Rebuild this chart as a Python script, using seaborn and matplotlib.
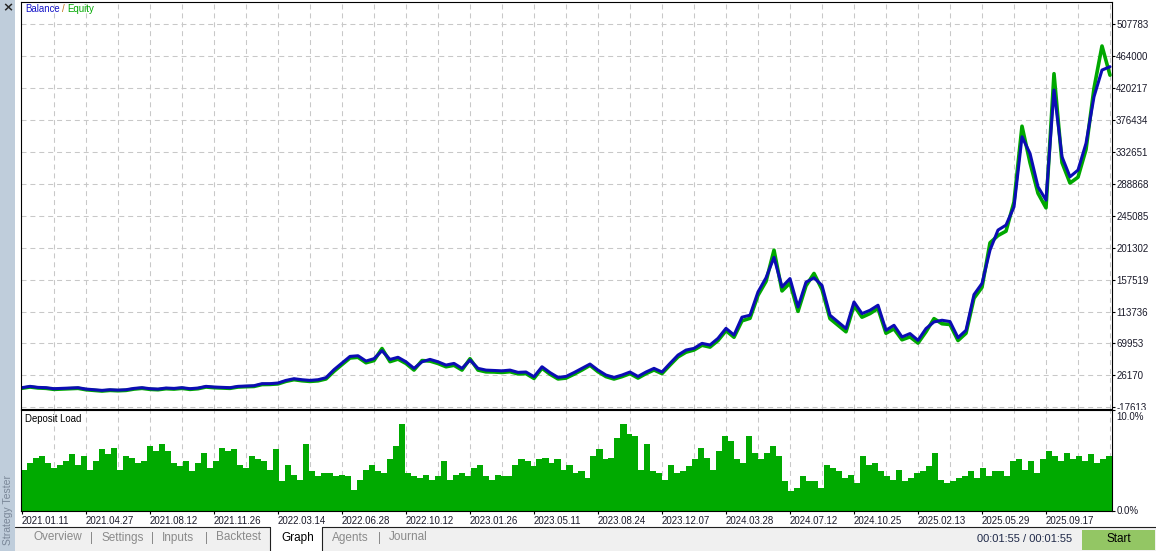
import numpy as np
import matplotlib
matplotlib.use("Agg")
import matplotlib.pyplot as plt
from matplotlib.patches import Rectangle
from matplotlib.lines import Line2D
from matplotlib.transforms import Bbox, TransformedBbox, ScaledTranslation
import seaborn as sns

W, H = 1156, 551

# ---------------- data ----------------
balance_k = [
    9.3, 11.1, 9.7, 9.3, 7.9, 8.3, 8.8, 9.3, 7.4, 6.5,
    5.6, 6.5, 6.0, 6.5, 8.3, 9.3, 7.9, 7.4, 8.8, 8.3,
    9.3, 7.9, 8.8, 11.1, 10.2, 9.7, 9.3, 11.1, 11.6, 12.0,
    14.8, 14.8, 15.7, 19.3, 21.6, 20.2, 19.3, 20.2, 23.0, 34.0,
    43.1, 52.2, 53.1, 45.8, 49.1, 60.0, 48.0, 51.0, 44.8, 35.8,
    44.8, 48.1, 44.8, 40.3, 42.6, 35.8, 47.2, 35.8, 33.4, 32.9,
    32.4, 33.4, 30.3, 30.8, 24.3, 38.0, 30.0, 23.4, 24.7, 30.0,
    35.8, 41.7, 33.4, 26.6, 23.4, 26.6, 30.8, 24.7, 30.8, 35.8,
    30.8, 42.6, 54.0, 60.9, 63.2, 70.1, 67.8, 77.0, 90.7, 81.5,
    106.0, 108.7, 140.6, 160.0, 188.0, 147.5, 159.0, 120.0, 154.0, 160.0,
    149.6, 108.7, 99.5, 90.4, 126.9, 110.9, 115.5, 122.4, 88.1, 94.9,
    78.9, 83.5, 74.3, 90.4, 99.5, 101.8, 100.0, 77.9, 88.0, 137.0,
    152.3, 198.0, 225.5, 232.3, 257.4, 353.5, 330.7, 284.9, 266.6, 417.6,
    326.0, 298.6, 307.8, 344.4, 408.4, 445.0, 449.6,
]
equity_k = [
    8.5, 10.2, 8.9, 8.4, 7.0, 7.5, 7.9, 8.4, 6.5, 5.6,
    4.7, 5.6, 5.1, 5.6, 7.4, 8.4, 7.0, 6.5, 7.9, 7.4,
    8.4, 7.0, 7.9, 10.2, 9.3, 8.8, 8.4, 10.2, 10.7, 11.0,
    13.6, 13.8, 14.5, 18.0, 20.3, 18.8, 17.9, 18.7, 21.3, 31.8,
    41.0, 50.0, 51.0, 43.5, 46.5, 63.0, 45.0, 48.5, 42.5, 33.5,
    46.5, 45.8, 42.5, 38.0, 40.0, 33.5, 49.0, 33.5, 31.0, 30.8,
    30.2, 31.2, 28.2, 28.6, 22.0, 36.0, 27.8, 21.3, 22.5, 27.8,
    33.6, 40.0, 31.2, 24.5, 21.2, 24.5, 28.6, 22.5, 28.6, 33.6,
    28.6, 40.3, 51.5, 58.0, 61.0, 67.5, 65.0, 74.0, 87.5, 78.5,
    101.0, 104.5, 136.0, 155.0, 198.0, 142.0, 153.0, 114.0, 149.0, 166.0,
    144.0, 104.0, 95.0, 86.0, 122.0, 106.0, 111.0, 118.0, 84.0, 90.0,
    75.0, 79.0, 70.5, 86.0, 104.0, 97.0, 96.0, 74.0, 84.0, 132.0,
    147.0, 208.0, 218.0, 224.0, 264.0, 368.0, 318.0, 276.0, 256.0, 440.0,
    318.0, 290.0, 298.0, 336.0, 420.0, 478.0, 438.0,
]
deposit_load = [
    4.0, 4.7, 5.2, 5.4, 4.7, 4.2, 4.5, 4.9, 5.6, 4.5,
    5.4, 4.0, 4.9, 6.1, 5.6, 6.2, 4.0, 5.4, 5.2, 4.7,
    4.9, 6.4, 5.9, 6.6, 5.9, 4.7, 4.4, 4.9, 3.9, 4.7,
    5.7, 4.2, 4.9, 6.2, 5.9, 6.1, 4.5, 4.2, 5.4, 5.1,
    4.9, 4.0, 6.1, 2.9, 4.5, 3.5, 3.0, 6.6, 3.9, 3.4,
    3.7, 3.7, 3.4, 3.5, 3.4, 2.0, 3.0, 4.0, 4.5, 3.9,
    3.7, 5.1, 6.4, 8.6, 3.7, 3.4, 3.2, 3.5, 3.0, 3.4,
    4.9, 3.0, 3.5, 3.7, 3.4, 4.2, 4.5, 3.4, 3.0, 3.5,
    3.4, 3.4, 4.5, 5.1, 4.9, 4.4, 5.1, 5.2, 4.7, 5.1,
    4.0, 4.5, 3.7, 3.9, 3.2, 5.4, 6.1, 5.1, 5.2, 7.2,
    8.6, 7.6, 7.4, 4.0, 6.6, 3.9, 3.7, 3.0, 4.5, 3.7,
    3.9, 4.4, 5.1, 6.2, 5.2, 4.0, 5.9, 7.4, 6.9, 5.1,
    4.7, 7.4, 5.7, 5.1, 5.7, 6.4, 5.4, 2.9, 1.9, 2.2,
    3.4, 2.9, 2.9, 2.2, 4.5, 4.2, 3.9, 3.2, 3.5, 2.7,
    5.4, 4.5, 4.7, 3.9, 3.4, 3.0, 4.0, 2.9, 3.2, 3.7,
    3.9, 4.4, 5.7, 3.0, 2.7, 2.9, 3.2, 3.4, 3.9, 3.2,
    4.2, 3.4, 3.9, 3.9, 3.4, 4.9, 5.1, 4.0, 4.9, 3.7,
    5.1, 5.9, 5.4, 4.9, 5.7, 5.1, 5.4, 4.9, 5.6, 4.7,
    5.1, 5.4,
]
date_labels = [
    "2021.01.11", "2021.04.27", "2021.08.12", "2021.11.26", "2022.03.14",
    "2022.06.28", "2022.10.12", "2023.01.26", "2023.05.11", "2023.08.24",
    "2023.12.07", "2024.03.28", "2024.07.12", "2024.10.25", "2025.02.13",
    "2025.05.29", "2025.09.17",
]
y_tick_values = [-17613, 26170, 69953, 113736, 157519, 201302, 245085,
                 288868, 332651, 376434, 420217, 464000, 507783]
load_ticks = [0.0, 10.0]
tab_names = ["Overview", "Settings", "Inputs", "Backtest", "Graph", "Agents", "Journal"]

assert len(balance_k) == len(equity_k)

# ---------------- style ----------------
sns.set_style("white")
plt.rcParams['font.family'] = ['Liberation Sans', 'DejaVu Sans']
plt.rcParams['lines.scale_dashes'] = False

def fx(x):
    return x / W

def fy(y):
    return 1 - y / H

fig = plt.figure(figsize=(W / 100, H / 100), dpi=100)
fig.patch.set_facecolor('white')

GRID = dict(color='#c8c8c8', lw=0.75, linestyle=(0, (3.6, 2.8)))
XMIN, XMAX = -0.125, (len(balance_k) - 1) + 0.25
text_col = '#1a1a2a'

# ---------------- main balance/equity panel ----------------
ax = fig.add_axes([fx(21), fy(408.5), (1112 - 21) / W, (408.5 - 2) / H])
idx = np.arange(len(balance_k))
balance = np.array(balance_k) * 1000
equity = np.array(equity_k) * 1000
sns.lineplot(x=idx, y=equity, color='#00a800', linewidth=2.6, ax=ax)
sns.lineplot(x=idx, y=balance, color='#0c0cb4', linewidth=2.2, ax=ax)
ax.set_xlim(XMIN, XMAX)
ax.set_ylim(-19259, 538372)
ax.set_xlabel('')
ax.set_ylabel('')
ax.xaxis.remove_overlapping_locs = False
ax.set_xticks(np.arange(4, len(balance_k), 4))
ax.tick_params(axis='x', length=0, labelbottom=False)
ax.yaxis.tick_right()
ax.set_yticks(y_tick_values)
ax.set_yticklabels([str(v) for v in y_tick_values])
ax.tick_params(axis='y', length=2, width=0.8, pad=1, labelsize=7,
               labelcolor=text_col, color='black')
ax.grid(True, axis='both', **GRID)
for s in ax.spines.values():
    s.set_color('black')
    s.set_linewidth(0.8)
# the lowest value label is cut by the deposit panel, as in the reference
low_lbl = ax.get_yticklabels()[0]
low_lbl.set_clip_on(True)
low_lbl.set_clip_box(TransformedBbox(Bbox([[fx(1112), fy(409.5)], [1.0, 1.0]]),
                                     fig.transFigure))

# ---------------- deposit load panel ----------------
ax2 = fig.add_axes([fx(21), fy(510.5), (1112 - 21) / W, (510.5 - 410) / H])
n = len(deposit_load)
bw = (XMAX - XMIN) / n
centers = XMIN + bw * (np.arange(n) + 0.5)
ax2.bar(centers, deposit_load, width=bw * 1.02, color='#00aa00',
        linewidth=0, antialiased=False, zorder=2)
ax2.set_xlim(XMIN, XMAX)
ax2.set_ylim(0, 10)
ax2.xaxis.remove_overlapping_locs = False
ax2.set_xticks(np.arange(0, 8 * len(date_labels), 8))
ax2.set_xticklabels(date_labels, ha='left')
ax2.set_xticks(np.arange(4, len(balance_k), 4), minor=True)
ax2.tick_params(axis='x', which='major', length=2.5, width=0.8, pad=1.5,
                labelsize=7, labelcolor=text_col, color='black', bottom=True)
ax2.tick_params(axis='x', which='minor', length=0)
ax2.grid(False, which='major')
ax2.grid(True, which='minor', axis='x', zorder=0, **GRID)
ax2.set_axisbelow(True)
ax2.yaxis.tick_right()
ax2.set_yticks(load_ticks)
ax2.set_yticklabels([f"{v:.1f}%" for v in load_ticks])
ax2.tick_params(axis='y', length=2, width=0.8, pad=1, labelsize=7,
                labelcolor=text_col, color='black')
top_lbl = ax2.get_yticklabels()[1]
top_lbl.set_va('top')
top_lbl.set_transform(top_lbl.get_transform() +
                      ScaledTranslation(0, -2.5 / 100, fig.dpi_scale_trans))
for s in ax2.spines.values():
    s.set_color('black')
    s.set_linewidth(0.8)

# ---------------- panel texts ----------------
fig.text(fx(25), fy(9), 'Balance', color='#1414c8', fontsize=6.9, va='center')
fig.text(fx(61.5), fy(9), '/', color='#c07010', fontsize=6.9, va='center')
fig.text(fx(67), fy(9), 'Equity', color='#00a800', fontsize=6.9, va='center')
fig.text(fx(25), fy(418.5), 'Deposit Load', color='black', fontsize=6.9, va='center')

# ---------------- window chrome ----------------
fig.add_artist(Rectangle((0, 0), fx(15), 1, transform=fig.transFigure,
                         facecolor='#bfcddb', edgecolor='none'))
fig.text(fx(7.5), fy(8), '×', fontsize=9.5, fontweight='bold', ha='center',
         va='center', family=['DejaVu Sans'])
fig.text(fx(8), fy(510), 'Strategy Tester', rotation=90, ha='center',
         va='center', color='#7a8798', fontsize=7.5)

# bottom tab strip
fig.add_artist(Rectangle((fx(15), 0), 1 - fx(15), fy(526.5), transform=fig.transFigure,
                         facecolor='#f0f0f0', edgecolor='none'))
fig.add_artist(Rectangle((fx(270), 0), (322 - 270) / W, fy(526.5),
                         transform=fig.transFigure, facecolor='white', edgecolor='none'))
fig.add_artist(Line2D([fx(15), fx(270)], [fy(526.5), fy(526.5)],
                      transform=fig.transFigure, color='#202020', lw=0.8))
fig.add_artist(Line2D([fx(322), 1], [fy(526.5), fy(526.5)],
                      transform=fig.transFigure, color='#202020', lw=0.8))
fig.add_artist(Line2D([fx(270), fx(270)], [fy(526.5), 0],
                      transform=fig.transFigure, color='#202020', lw=0.8))
fig.add_artist(Line2D([fx(322), fx(322)], [fy(526.5), 0],
                      transform=fig.transFigure, color='#202020', lw=0.8))

tab_x = [33, 101, 162, 216, 281, 332, 389]
for name, tx in zip(tab_names, tab_x):
    col = 'black' if name == 'Graph' else '#8a8a8a'
    fig.text(fx(tx), fy(537.5), name, color=col, fontsize=8.5, va='center')
for sx in [91.5, 153, 206.5, 379]:
    fig.text(fx(sx), fy(537.5), '|', color='#8a8a8a', fontsize=8.5,
             va='center', ha='center')

fig.text(fx(977), fy(539), '00:01:55 / 00:01:55', color='#1e2848',
         fontsize=8, va='center')
fig.add_artist(Rectangle((fx(1082), fy(549.5)), (1155 - 1082) / W, (549.5 - 529.5) / H,
                         transform=fig.transFigure, facecolor='#93c664', edgecolor='none'))
fig.text(fx(1118.5), fy(539.5), 'Start', color='black', fontsize=8.5,
         va='center', ha='center')

fig.savefig('out.png', dpi=100, facecolor='white')
